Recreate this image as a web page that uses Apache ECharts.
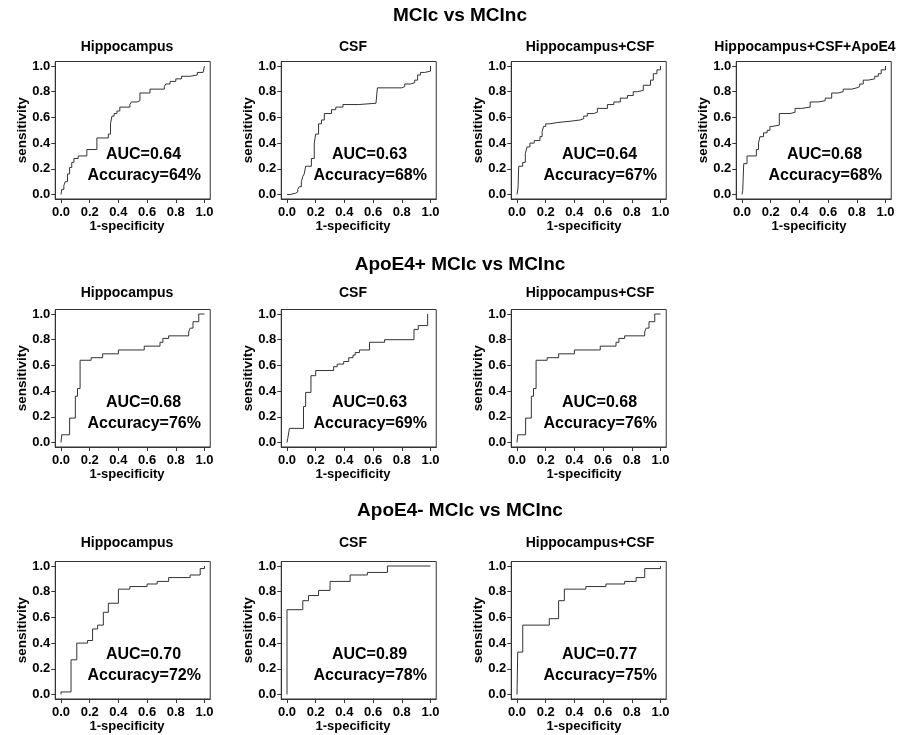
<!DOCTYPE html>
<html><head><meta charset="utf-8">
<script src="https://cdn.jsdelivr.net/npm/echarts@6/dist/echarts.min.js"></script>
<style>html,body{margin:0;padding:0;background:#fff}#c{width:898px;height:735px}</style>
</head><body><div id="c"></div>
<script>
// ---------- text ----------
const sectionTitles = ['MCIc vs MCInc', 'ApoE4+ MCIc vs MCInc', 'ApoE4- MCIc vs MCInc'];
const panelTitles = ['Hippocampus', 'CSF', 'Hippocampus+CSF', 'Hippocampus+CSF+ApoE4',
                     'Hippocampus', 'CSF', 'Hippocampus+CSF',
                     'Hippocampus', 'CSF', 'Hippocampus+CSF'];
const aucTexts = ['AUC=0.64', 'AUC=0.63', 'AUC=0.64', 'AUC=0.68',
                  'AUC=0.68', 'AUC=0.63', 'AUC=0.68',
                  'AUC=0.70', 'AUC=0.89', 'AUC=0.77'];
const accTexts = ['Accuracy=64%', 'Accuracy=68%', 'Accuracy=67%', 'Accuracy=68%',
                  'Accuracy=76%', 'Accuracy=69%', 'Accuracy=76%',
                  'Accuracy=72%', 'Accuracy=78%', 'Accuracy=75%'];
const xAxisName = '1-specificity';
const yAxisName = 'sensitivity';
const tickValues = [0, 0.2, 0.4, 0.6, 0.8, 1.0];

// ---------- ROC curves (1-specificity, sensitivity) ----------
// MCIc vs MCInc
const mciHippoFpr = [0, 0.005, 0.02, 0.03, 0.045, 0.06, 0.075, 0.09, 0.12, 0.18, 0.25, 0.33, 0.345, 0.355, 0.37, 0.39, 0.41, 0.48, 0.49, 0.53, 0.55, 0.62, 0.72, 0.73, 0.76, 0.80, 0.84, 0.90, 0.95, 0.99, 1.0];
const mciHippoTpr = [0, 0.04, 0.07, 0.10, 0.16, 0.21, 0.25, 0.28, 0.30, 0.35, 0.44, 0.47, 0.55, 0.61, 0.63, 0.65, 0.68, 0.70, 0.72, 0.73, 0.79, 0.82, 0.84, 0.86, 0.88, 0.90, 0.92, 0.93, 0.95, 0.96, 1.0];

const mciCsfFpr = [0, 0.02, 0.06, 0.075, 0.085, 0.10, 0.11, 0.12, 0.13, 0.17, 0.19, 0.20, 0.22, 0.24, 0.26, 0.31, 0.34, 0.39, 0.50, 0.62, 0.63, 0.80, 0.82, 0.86, 0.89, 0.91, 0.93, 0.96, 1.0];
const mciCsfTpr = [0, 0.01, 0.02, 0.04, 0.06, 0.10, 0.14, 0.16, 0.22, 0.28, 0.40, 0.47, 0.55, 0.58, 0.63, 0.66, 0.68, 0.70, 0.71, 0.72, 0.83, 0.84, 0.86, 0.87, 0.89, 0.93, 0.95, 0.96, 1.0];

const mciCombFpr = [0, 0.007, 0.012, 0.04, 0.058, 0.07, 0.09, 0.12, 0.16, 0.175, 0.185, 0.20, 0.23, 0.28, 0.37, 0.44, 0.465, 0.49, 0.535, 0.56, 0.63, 0.675, 0.72, 0.77, 0.81, 0.84, 0.88, 0.93, 0.95, 0.975, 1.0];
const mciCombTpr = [0, 0.05, 0.22, 0.25, 0.32, 0.37, 0.40, 0.42, 0.45, 0.49, 0.53, 0.55, 0.56, 0.57, 0.58, 0.59, 0.61, 0.63, 0.64, 0.67, 0.70, 0.72, 0.75, 0.77, 0.80, 0.81, 0.85, 0.89, 0.94, 0.97, 1.0];

const mciApoeFpr = [0, 0.005, 0.012, 0.035, 0.10, 0.115, 0.125, 0.15, 0.175, 0.195, 0.21, 0.26, 0.335, 0.37, 0.415, 0.475, 0.53, 0.58, 0.625, 0.67, 0.705, 0.765, 0.80, 0.82, 0.845, 0.88, 0.925, 0.95, 0.97, 1.0];
const mciApoeTpr = [0, 0.03, 0.24, 0.30, 0.35, 0.40, 0.45, 0.48, 0.50, 0.53, 0.54, 0.63, 0.64, 0.67, 0.68, 0.72, 0.73, 0.75, 0.79, 0.80, 0.82, 0.83, 0.84, 0.86, 0.89, 0.90, 0.92, 0.94, 0.97, 1.0];

// ApoE4+ MCIc vs MCInc
const posHippoFpr = [0, 0.005, 0.06, 0.10, 0.115, 0.133, 0.21, 0.29, 0.40, 0.58, 0.69, 0.71, 0.75, 0.89, 0.90, 0.92, 0.96, 1.0];
const posHippoTpr = [0, 0.06, 0.19, 0.36, 0.42, 0.64, 0.66, 0.69, 0.72, 0.75, 0.78, 0.81, 0.83, 0.86, 0.89, 0.94, 1.0, 1.0];

const posCsfFpr = [0, 0.005, 0.017, 0.115, 0.13, 0.167, 0.20, 0.325, 0.35, 0.395, 0.43, 0.46, 0.475, 0.505, 0.575, 0.68, 0.885, 0.915, 0.98];
const posCsfTpr = [0, 0.03, 0.11, 0.28, 0.39, 0.52, 0.56, 0.59, 0.61, 0.63, 0.66, 0.68, 0.70, 0.72, 0.78, 0.80, 0.88, 0.91, 1.0];

const posCombFpr = [0, 0.005, 0.06, 0.10, 0.115, 0.133, 0.21, 0.29, 0.40, 0.58, 0.69, 0.71, 0.75, 0.89, 0.90, 0.92, 0.96, 1.0];
const posCombTpr = [0, 0.06, 0.19, 0.36, 0.42, 0.64, 0.66, 0.69, 0.72, 0.75, 0.78, 0.81, 0.83, 0.86, 0.89, 0.94, 1.0, 1.0];

// ApoE4- MCIc vs MCInc
const negHippoFpr = [0, 0, 0.07, 0.11, 0.185, 0.22, 0.255, 0.295, 0.33, 0.40, 0.48, 0.60, 0.67, 0.75, 0.90, 0.97, 1.0];
const negHippoTpr = [0, 0.02, 0.27, 0.40, 0.42, 0.51, 0.54, 0.64, 0.71, 0.82, 0.84, 0.86, 0.88, 0.91, 0.93, 0.98, 1.0];

const negCsfFpr = [0, 0, 0.11, 0.15, 0.22, 0.30, 0.44, 0.56, 0.70, 1.0];
const negCsfTpr = [0, 0.66, 0.73, 0.77, 0.81, 0.88, 0.93, 0.95, 1.0, 1.0];

const negCombFpr = [0, 0.005, 0.04, 0.225, 0.29, 0.33, 0.48, 0.62, 0.75, 0.83, 0.89, 1.0];
const negCombTpr = [0, 0.33, 0.54, 0.59, 0.73, 0.82, 0.84, 0.86, 0.88, 0.91, 0.98, 1.0];

const curves = [
  [mciHippoFpr, mciHippoTpr], [mciCsfFpr, mciCsfTpr], [mciCombFpr, mciCombTpr], [mciApoeFpr, mciApoeTpr],
  [posHippoFpr, posHippoTpr], [posCsfFpr, posCsfTpr], [posCombFpr, posCombTpr],
  [negHippoFpr, negHippoTpr], [negCsfFpr, negCsfTpr], [negCombFpr, negCombTpr]
];
const panelRow = [0, 0, 0, 0, 1, 1, 1, 2, 2, 2];
const panelCol = [0, 1, 2, 3, 0, 1, 2, 0, 1, 2];

// ---------- layout & style ----------
const FONT = "'Liberation Sans', Arial, Helvetica, sans-serif";
const rowTop = [66, 314, 566], H = 128.5;
const colLeft = [61, 287, 517, 742], W = 143.5;
const titleX = [127, 353, 590, 805];
const xNameX = [127, 353, 584, 809];
const sectionY = [16, 265, 511], sectionX = 460;
const subtitleY = [47, 293, 543];
const XMIN = -0.04, XMAX = 1.04, YMIN = -0.035, YMAX = 1.035;
const AUC_POS = [0.575, 0.31], ACC_POS = [0.58, 0.15];
const INK = '#000', LINE = '#333';

const grids = [], xAxes = [], yAxes = [], series = [], graphics = [];

function txt(x, y, text, size, extra) {
  return Object.assign({ type: 'text', x: x, y: y, silent: true,
    style: { text: text, fontSize: size, fontWeight: 'bold', fontFamily: FONT, fill: INK, align: 'center', verticalAlign: 'middle' } }, extra || {});
}

sectionTitles.forEach((t, r) => graphics.push(txt(sectionX, sectionY[r], t, 19)));

curves.forEach((c, i) => {
  const r = panelRow[i], col = panelCol[i];
  const x0 = colLeft[col], y1 = rowTop[r];
  grids.push({
    left: x0 + XMIN * W, top: y1 - (YMAX - 1) * H,
    width: (XMAX - XMIN) * W, height: (YMAX - YMIN) * H,
    show: true, borderColor: LINE, borderWidth: 1, backgroundColor: 'transparent'
  });
  const axisCommon = {
    type: 'value', gridIndex: i,
    axisLine: { show: true, onZero: false, lineStyle: { color: LINE, width: 1 } },
    axisTick: { show: true, customValues: tickValues, length: 4, lineStyle: { color: LINE, width: 1 } },
    axisLabel: { customValues: tickValues, formatter: v => v.toFixed(1), fontSize: 13, fontWeight: 'bold', fontFamily: FONT, color: INK },
    splitLine: { show: false }
  };
  xAxes.push(Object.assign({}, axisCommon, { min: XMIN, max: XMAX,
    axisLabel: Object.assign({}, axisCommon.axisLabel, { margin: 7 }) }));
  yAxes.push(Object.assign({}, axisCommon, { min: YMIN, max: YMAX,
    axisLabel: Object.assign({}, axisCommon.axisLabel, { margin: 5 }) }));

  series.push({
    type: 'line', xAxisIndex: i, yAxisIndex: i,
    data: c[0].map((x, k) => [x, c[1][k]]),
    step: 'end', symbol: 'none', showSymbol: false, silent: true,
    lineStyle: { color: LINE, width: 1 }
  });

  graphics.push(txt(titleX[col], subtitleY[r], panelTitles[i], 14));
  graphics.push(txt(xNameX[col], y1 + H + 32, xAxisName, 13));
  graphics.push(txt(x0 - 39, y1 + H / 2, yAxisName, 13.5, { rotation: Math.PI / 2 }));
});

const chart = echarts.init(document.getElementById('c'), null, { renderer: 'canvas' });
chart.setOption({
  animation: false,
  backgroundColor: '#fff',
  grid: grids, xAxis: xAxes, yAxis: yAxes, series: series
});

// AUC / accuracy annotations placed through each panel's own scales
curves.forEach((c, i) => {
  const pa = chart.convertToPixel({ gridIndex: i }, AUC_POS);
  const pb = chart.convertToPixel({ gridIndex: i }, ACC_POS);
  graphics.push(txt(pa[0], pa[1], aucTexts[i], 16));
  graphics.push(txt(pb[0], pb[1], accTexts[i], 16));
});
chart.setOption({ graphic: graphics });
</script>
</body></html>
